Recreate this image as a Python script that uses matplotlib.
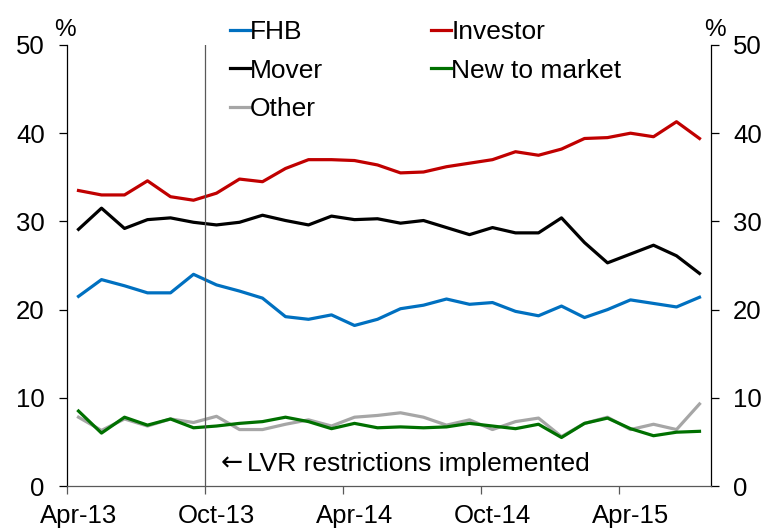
import matplotlib
matplotlib.use('Agg')
import matplotlib.pyplot as plt
import numpy as np

plt.rcParams['font.family'] = ['Liberation Sans', 'DejaVu Sans']

# monthly, Apr-13 .. Jul-15
months = ['Apr-13', 'May-13', 'Jun-13', 'Jul-13', 'Aug-13', 'Sep-13', 'Oct-13', 'Nov-13',
          'Dec-13', 'Jan-14', 'Feb-14', 'Mar-14', 'Apr-14', 'May-14', 'Jun-14', 'Jul-14',
          'Aug-14', 'Sep-14', 'Oct-14', 'Nov-14', 'Dec-14', 'Jan-15', 'Feb-15', 'Mar-15',
          'Apr-15', 'May-15', 'Jun-15', 'Jul-15']
fhb = [21.5, 23.4, 22.7, 21.9, 21.9, 24.0, 22.8, 22.1, 21.3, 19.2, 18.9, 19.4, 18.2, 18.9,
       20.1, 20.5, 21.2, 20.6, 20.8, 19.8, 19.3, 20.4, 19.1, 20.0, 21.1, 20.7, 20.3, 21.4]
investor = [33.5, 33.0, 33.0, 34.6, 32.8, 32.4, 33.2, 34.8, 34.5, 36.0, 37.0, 37.0, 36.9, 36.4,
            35.5, 35.6, 36.2, 36.6, 37.0, 37.9, 37.5, 38.2, 39.4, 39.5, 40.0, 39.6, 41.3, 39.4]
mover = [29.1, 31.5, 29.2, 30.2, 30.4, 29.9, 29.6, 29.9, 30.7, 30.1, 29.6, 30.6, 30.2, 30.3,
         29.8, 30.1, 29.3, 28.5, 29.3, 28.7, 28.7, 30.4, 27.6, 25.3, 26.3, 27.3, 26.1, 24.1]
new_mkt = [8.5, 6.0, 7.8, 6.9, 7.6, 6.6, 6.8, 7.1, 7.3, 7.8, 7.3, 6.5, 7.1, 6.6,
           6.7, 6.6, 6.7, 7.1, 6.8, 6.5, 7.0, 5.5, 7.1, 7.7, 6.5, 5.7, 6.1, 6.2]
other = [7.8, 6.3, 7.6, 6.8, 7.6, 7.2, 7.9, 6.4, 6.4, 7.0, 7.5, 6.8, 7.8, 8.0,
         8.3, 7.8, 6.9, 7.5, 6.4, 7.3, 7.7, 5.6, 7.1, 7.8, 6.4, 7.0, 6.4, 9.3]
label_months = ['Apr-13', 'Oct-13', 'Apr-14', 'Oct-14', 'Apr-15']

x = np.arange(len(months))

fig = plt.figure(figsize=(7.65, 5.28), dpi=100)
ax = fig.add_axes([67/765, 42/528, 644/765, 441/528])

ax.plot(x, fhb, color='#0070C0', lw=2.3, label='FHB')
ax.plot(x, mover, color='black', lw=2.3, label='Mover')
ax.plot(x, other, color='#A6A6A6', lw=2.3, label='Other')
ax.plot(x, investor, color='#C00000', lw=2.3, label='Investor')
ax.plot(x, new_mkt, color='#007000', lw=2.3, label='New to market')

lvr = months.index('Oct-13') - 0.5
ax.axvline(lvr, color='#595959', lw=0.9)
ax.text(lvr + 0.68, 1.7, '\u2190', fontsize=19, va='baseline', family='DejaVu Sans')
ax.text(lvr + 1.82, 1.7, 'LVR restrictions implemented', fontsize=19, va='baseline')

ax.set_xlim(-0.5, len(months) - 0.5)
ax.set_ylim(0, 50)
ax.set_yticks([0, 10, 20, 30, 40, 50])
ax.tick_params(axis='y', labelsize=18.5, direction='out', length=6, width=0.9, pad=10,
               left=True, right=True, labelleft=True, labelright=True)

pos = [months.index(m) for m in label_months]
ax.set_xticks([p - 0.5 for p in pos])
ax.set_xticklabels([])
ax.set_xticks(pos, minor=True)
ax.set_xticklabels(label_months, minor=True)
ax.tick_params(axis='x', which='major', direction='out', length=6, width=0.9, color='#595959')
ax.tick_params(axis='x', which='minor', length=0, labelsize=18.5, pad=13)

ax.spines['top'].set_visible(False)
ax.spines['bottom'].set_color('#595959')
for s in ['left', 'right', 'bottom']:
    ax.spines[s].set_linewidth(0.9)

fig.text(65/765, 1 - 36/528, '%', fontsize=17.5, ha='center', va='baseline')
fig.text(715/765, 1 - 36/528, '%', fontsize=17.5, ha='center', va='baseline')

ax.legend(loc='upper left', bbox_to_anchor=(230/765, 1 - 20/528), bbox_transform=fig.transFigure,
          ncol=2, frameon=False, fontsize=19, handlelength=0.76, handletextpad=0.0,
          borderpad=0, borderaxespad=0, labelspacing=0.55, columnspacing=4.1)

fig.savefig('out.png', dpi=100)
